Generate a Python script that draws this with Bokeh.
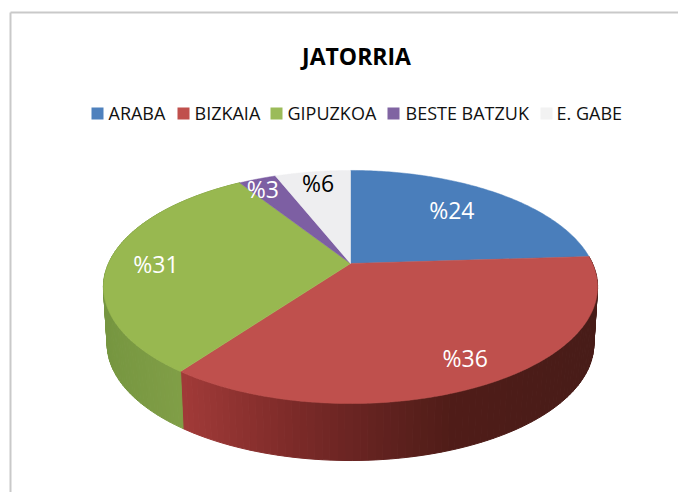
import numpy as np
from bokeh.plotting import figure
from bokeh.models import Range1d
from bokeh.core.properties import value
from bokeh.embed import file_html
from bokeh.resources import INLINE

title = "JATORRIA"
categories = ["ARABA", "BIZKAIA", "GIPUZKOA", "BESTE BATZUK", "E. GABE"]
values = [24, 36, 31, 3, 6]
labels = ["%24", "%36", "%31", "%3", "%6"]
colors = ["#4a7ebb", "#bf504d", "#98b850", "#7d5fa3", "#eeeef0"]
legend_colors = ["#4f81bd", "#c0504d", "#9bbb59", "#8064a2", "#f2f2f2"]
label_colors = ["white", "white", "white", "white", "black"]

# layout, in page pixels
label_radius = [0.65, 0.8, 0.8, 0.87, 0.8]
label_dx = [3, 6, -2, -5, -1]
label_dy = [-5, 3, 3, 0, -5]
legend_box_x = [91, 177, 270, 387, 540]
legend_text_x = [108, 194, 287, 405, 556]
CX, CY, A, B, K, DEPTH = 350, 263, 242, 111.8, 0.2016, 57
FONT = "Open Sans"


def project(theta, r=1.0, scale=1.0, dy=0.0):
    u, v = r * np.sin(theta), r * np.cos(theta)
    w = 1 + K * v
    return CX + scale * A * u / w, CY - B * v / w + dy


def lerp_color(x, stops):
    xs = [s[0] for s in stops]
    chans = [np.interp(x, xs, [s[1][i] for s in stops]) for i in range(3)]
    return "#%02x%02x%02x" % tuple(int(c) for c in chans)


RED_SIDE = [(186, (160, 58, 56)), (300, (122, 42, 40)), (360, (104, 36, 34)),
            (450, (80, 29, 24)), (600, (72, 28, 24))]
GREEN_SIDE = [(100, (118, 150, 64)), (190, (130, 160, 72))]
side_stops = [None, RED_SIDE, GREEN_SIDE, None, None]

p = figure(width=678, height=492, x_range=Range1d(0, 678), y_range=Range1d(492, 0),
           output_backend="svg", toolbar_location=None, min_border=0)
p.xaxis.visible = False
p.yaxis.visible = False
p.grid.visible = False
p.outline_line_color = None

# chart frame
p.segment([10, 10], [12, 12], [10, 678], [492, 12], line_color="#c9c9c9", line_width=2)

edges = np.radians(np.concatenate([[0], np.cumsum(values)]) * 3.6)

# rim of the pie
for i, stops in enumerate(side_stops):
    if stops is None:
        continue
    ts = np.linspace(edges[i], edges[i + 1], 90)
    xs, ys, cs = [], [], []
    for t0, t1 in zip(ts[:-1], ts[1:]):
        x0, y0 = project(t0)
        x1, y1 = project(t1)
        x2, y2 = project(t1, scale=0.985, dy=DEPTH)
        x3, y3 = project(t0, scale=0.985, dy=DEPTH)
        xs.append([x0, x1, x2, x3])
        ys.append([y0, y1, y2, y3])
        cs.append(lerp_color((x0 + x1) / 2, stops))
    p.patches(xs, ys, fill_color=cs, line_color=cs, line_width=1)

# top faces
for i, c in enumerate(colors):
    ts = np.linspace(edges[i], edges[i + 1], 120)
    x, y = project(ts)
    p.patch(np.r_[CX, x], np.r_[CY, y], fill_color=c, line_color=c, line_width=0.5)

# data labels
mids = (edges[:-1] + edges[1:]) / 2
lx, ly = project(mids, r=np.array(label_radius))
p.text(lx + np.array(label_dx), ly + np.array(label_dy), text=labels,
       text_color=label_colors, text_font=value(FONT),
       text_font_size="23px", text_align="center", text_baseline="middle")

# title
p.text([356], [55], text=[title], text_color="black", text_font=value(FONT),
       text_font_size="23px", text_font_style="bold", text_align="center",
       text_baseline="middle")

# legend
p.rect([x + 6 for x in legend_box_x], [113] * 5, width=12, height=12,
       fill_color=legend_colors, line_color=None)
p.text(legend_text_x, [112] * 5, text=categories, text_color="#111111",
       text_font=value(FONT), text_font_size="18px", text_align="left",
       text_baseline="middle")

open("out.html", "w").write(file_html(p, INLINE))
